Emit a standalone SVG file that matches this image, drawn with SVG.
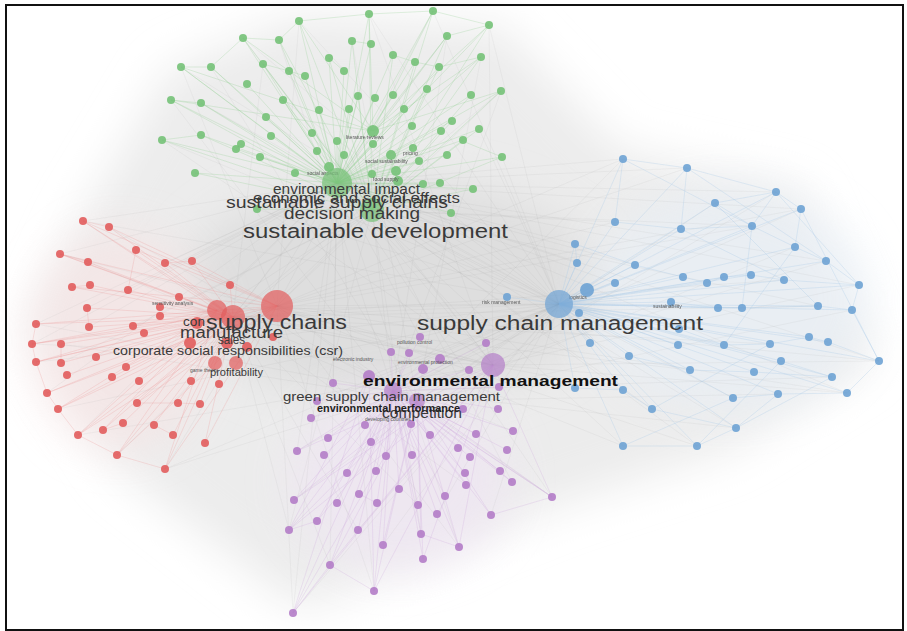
<svg xmlns="http://www.w3.org/2000/svg" width="907" height="631" viewBox="0 0 907 631">
<defs>
<filter id="blur" x="-30%" y="-30%" width="160%" height="160%"><feGaussianBlur stdDeviation="22"/></filter>
<filter id="soft" x="-50%" y="-50%" width="200%" height="200%"><feGaussianBlur stdDeviation="0.6"/></filter>
<style>
.g{fill:#76c278;fill-opacity:.9}
.r{fill:#e25c5c;fill-opacity:.9}
.p{fill:#b47dc8;fill-opacity:.9}
.b{fill:#6ea3d4;fill-opacity:.9}
.big{fill-opacity:.7}
.eg{stroke:#8fcf8f;stroke-width:.6;stroke-opacity:.45;fill:none}
.er{stroke:#ec9a9a;stroke-width:.6;stroke-opacity:.45;fill:none}
.ep{stroke:#cfa8dc;stroke-width:.6;stroke-opacity:.45;fill:none}
.eb{stroke:#a9c9e6;stroke-width:.6;stroke-opacity:.5;fill:none}
.ex{stroke:#9a9a9a;stroke-width:.5;stroke-opacity:.18;fill:none}
text{font-family:"Liberation Sans",Arial,sans-serif;fill:#3a3a3a}
.sm{font-size:5px;fill:#555}
</style>
</defs>
<rect x="0" y="0" width="907" height="631" fill="#ffffff"/>
<g id="haze">
<polygon points="170,70 300,15 500,25 620,150 800,190 875,360 730,450 560,505 300,610 120,470 30,330 80,220" fill="#ececec" filter="url(#blur)"/>
<ellipse cx="390" cy="290" rx="210" ry="110" fill="#dedede" filter="url(#blur)"/>
<ellipse cx="120" cy="340" rx="90" ry="110" fill="#f6e4e4" filter="url(#blur)" opacity=".7"/>
<ellipse cx="400" cy="480" rx="110" ry="90" fill="#efe5f3" filter="url(#blur)" opacity=".7"/>
<ellipse cx="730" cy="300" rx="140" ry="110" fill="#e8eff6" filter="url(#blur)" opacity=".7"/>
</g>
<g id="connectors">
<path class="ex" d="M337 183L83 221M337 183L60 254M337 183L36 324M337 183L32 344M337 183L47 393M337 183L78 435M337 183L165 469M337 183L293 613M337 183L330 565M337 183L374 591M337 183L459 547M337 183L552 497M337 183L623 446M337 183L697 446M337 183L736 428M337 183L847 393M337 183L879 361M337 183L859 285M337 183L826 261M337 183L801 209M337 183L776 192M337 183L687 168M337 183L623 159M372 210L133 326M372 210L61 363M372 210L117 455M372 210L289 530M372 210L421 534M372 210L512 482M372 210L652 409M372 210L733 398M372 210L818 306M372 210L752 226M372 210L615 222M559 304L83 221M559 304L36 362M559 304L58 409M559 304L165 469M559 304L293 613M559 304L383 545M559 304L491 515M559 304L181 67M559 304L243 38M559 304L299 21M559 304L369 14M559 304L433 11M559 304L489 25M559 304L162 140M559 304L201 103M559 304L283 100M559 304L479 129M559 304L502 157M559 304L257 209M277 306L181 67M277 306L299 21M277 306L433 11M277 306L501 91M277 306L879 361M277 306L847 393M277 306L697 446M277 306L623 446M277 306L552 497M277 306L459 547M277 306L374 591M277 306L293 613M277 306L801 209M277 306L687 168M277 306L623 159M493 365L162 140M493 365L243 38M493 365L369 14M493 365L489 25M493 365L60 254M493 365L32 344M493 365L78 435M493 365L165 469M493 365L776 192M493 365L859 285M493 365L879 361M493 365L847 393M393 391L36 324M393 391L109 227M393 391L171 100M393 391L279 40M393 391L447 36M393 391L501 91M393 391L623 159M393 391L801 209M393 391L826 261M393 391L832 377M393 391L736 428M417 401L61 344M417 401L88 262M417 401L211 67M417 401L352 41M417 401L481 57M417 401L715 203M417 401L795 247M417 401L852 310M417 401L778 394M233 317L447 36M233 317L263 64M233 317L501 91M233 317L615 222M233 317L752 226M233 317L784 280M233 317L818 306M233 317L770 344M233 317L690 370M233 317L623 390M233 317L513 431M233 317L466 485M233 317L418 505M233 317L358 530M233 317L330 565M233 317L289 530M559 304L369 376M559 304L440 359M559 304L420 337M559 304L317 401M559 304L311 418M559 304L297 451M559 304L294 500M559 304L358 530M559 304L437 514M337 183L420 337M337 183L486 343M337 183L333 383M337 183L297 451M337 183L230 285M337 183L192 261M337 183L165 263M337 183L128 290M337 183L89 327M337 183L87 308M337 183L575 244M337 183L577 263M337 183L615 283M337 183L507 297M337 183L635 265M372 210L277 306M372 210L559 304M372 210L493 365M277 306L559 304M277 306L493 365M277 306L393 391M559 304L393 391M559 304L417 401M372 210L393 391M372 210L233 317M337 183L559 304M337 183L493 365M233 317L493 365M233 317L559 304M217 310L559 304M217 310L493 365M217 310L372 210M233 317L337 183"/>
<path class="eg" d="M337 183L299 21M337 183L369 14M337 183L433 11M337 183L489 25M337 183L243 38M337 183L279 40M337 183L352 41M337 183L371 44M337 183L447 36M337 183L181 67M337 183L211 67M337 183L263 64M337 183L289 71M337 183L305 76M337 183L329 58M337 183L344 71M337 183L393 55M337 183L415 62M337 183L439 67M337 183L481 57M337 183L247 84M337 183L171 100M337 183L201 103M337 183L283 100M337 183L358 96M337 183L375 98M337 183L393 95M337 183L427 89M337 183L471 95M337 183L501 91M337 183L266 117M337 183L319 110M337 183L349 109M337 183L404 109M337 183L452 121M337 183L479 129M337 183L162 140M337 183L201 135M337 183L241 144M337 183L236 149M337 183L271 136M337 183L312 133M337 183L337 141M337 183L373 144M337 183L412 126M337 183L441 131M337 183L463 140M337 183L260 157M337 183L317 151M337 183L344 155M337 183L391 155M337 183L413 148M337 183L447 155M337 183L502 157M337 183L195 173M337 183L295 173M337 183L329 167M337 183L372 174M337 183L396 171M337 183L419 161M337 183L423 184M337 183L440 183M337 183L473 189M337 183L451 213M337 183L257 209M372 210L299 21M372 210L369 14M372 210L433 11M372 210L489 25M372 210L243 38M372 210L279 40M372 210L352 41M372 210L447 36M372 210L181 67M372 210L211 67M372 210L263 64M372 210L329 58M372 210L393 55M372 210L415 62M372 210L439 67M372 210L481 57M372 210L171 100M372 210L201 103M372 210L283 100M372 210L358 96M372 210L427 89M372 210L471 95M372 210L501 91M372 210L162 140M372 210L201 135M372 210L452 121M372 210L479 129M372 210L463 140M372 210L502 157M372 210L195 173M372 210L257 209M372 210L473 189M373 131L299 21M373 131L369 14M373 131L433 11M373 131L489 25M373 131L243 38M373 131L447 36M373 131L181 67M373 131L481 57M373 131L171 100M373 131L501 91M299 21L369 14M369 14L433 11M433 11L489 25M243 38L279 40M279 40L299 21M352 41L371 44M447 36L489 25M181 67L211 67M211 67L243 38M263 64L289 71M289 71L305 76M329 58L344 71M393 55L415 62M415 62L439 67M439 67L481 57M171 100L201 103M162 140L201 135M236 149L241 144M460 140L502 157"/>
<path class="er" d="M233 317L83 221M233 317L109 227M233 317L60 254M233 317L88 262M233 317L136 250M233 317L165 263M233 317L192 261M233 317L72 287M233 317L90 285M233 317L128 290M233 317L230 285M233 317L179 297M233 317L87 308M233 317L160 307M233 317L160 316M233 317L36 324M233 317L89 327M233 317L133 326M233 317L144 333M233 317L32 344M233 317L61 344M233 317L36 362M233 317L61 363M233 317L96 357M233 317L126 367M233 317L67 375M233 317L112 377M233 317L139 381M233 317L47 393M233 317L58 409M233 317L137 403M233 317L178 403M233 317L200 404M233 317L78 435M233 317L103 430M233 317L123 423M233 317L154 425M233 317L173 435M233 317L205 443M233 317L117 455M233 317L165 469M277 306L83 221M277 306L109 227M277 306L60 254M277 306L136 250M277 306L192 261M277 306L72 287M277 306L36 324M277 306L32 344M277 306L36 362M277 306L47 393M277 306L58 409M277 306L78 435M277 306L117 455M277 306L165 469M277 306L205 443M277 306L137 403M217 310L83 221M217 310L60 254M217 310L32 344M217 310L36 362M217 310L58 409M217 310L78 435M217 310L103 430M217 310L117 455M217 310L165 469M83 221L109 227M60 254L88 262M72 287L90 285M36 324L32 344M32 344L36 362M36 362L47 393M47 393L58 409M58 409L78 435M78 435L117 455M117 455L165 469M103 430L123 423M61 344L61 363M87 308L89 327M128 290L136 250M165 263L192 261M137 403L178 403M178 403L200 404M154 425L173 435"/>
<path class="ep" d="M393 391L420 337M393 391L486 343M393 391L391 352M393 391L409 353M393 391L440 359M393 391L423 369M393 391L469 370M393 391L333 383M393 391L499 387M393 391L317 401M393 391L463 409M393 391L498 409M393 391L311 418M393 391L365 425M393 391L411 424M393 391L430 435M393 391L328 438M393 391L371 442M393 391L476 434M393 391L513 431M393 391L297 451M393 391L324 455M393 391L386 456M393 391L412 455M393 391L458 448M393 391L470 457M393 391L507 450M393 391L347 473M393 391L376 471M393 391L465 473M393 391L500 471M393 391L399 489M393 391L466 485M393 391L512 482M393 391L294 500M393 391L359 494M393 391L337 503M393 391L377 503M393 391L418 505M393 391L445 496M393 391L552 497M393 391L437 514M393 391L491 515M393 391L317 521M393 391L289 530M393 391L358 530M393 391L421 534M393 391L383 545M393 391L459 547M393 391L423 559M393 391L330 565M393 391L374 591M393 391L293 613M417 401L294 500M417 401L289 530M417 401L317 521M417 401L330 565M417 401L374 591M417 401L293 613M417 401L421 534M417 401L459 547M417 401L423 559M417 401L552 497M417 401L491 515M417 401L512 482M417 401L383 545M493 365L294 500M493 365L289 530M493 365L330 565M493 365L374 591M493 365L293 613M493 365L459 547M493 365L552 497M493 365L423 559M493 365L297 451M369 376L293 613M369 376L289 530M369 376L374 591M369 376L552 497M293 613L330 565M330 565L374 591M289 530L317 521M421 534L459 547M491 515L552 497M359 494L377 503"/>
<path class="eb" d="M559 304L623 159M559 304L687 168M559 304L776 192M559 304L715 203M559 304L801 209M559 304L615 222M559 304L681 229M559 304L752 226M559 304L575 244M559 304L795 247M559 304L577 263M559 304L635 265M559 304L826 261M559 304L615 283M559 304L683 277M559 304L707 283M559 304L724 277M559 304L751 275M559 304L784 280M559 304L859 285M559 304L507 297M559 304L671 302M559 304L718 308M559 304L742 308M559 304L818 306M559 304L852 310M559 304L679 329M559 304L590 343M559 304L678 345M559 304L724 345M559 304L770 344M559 304L809 337M559 304L828 342M559 304L629 356M559 304L781 361M559 304L879 361M559 304L690 370M559 304L754 372M559 304L832 377M559 304L575 388M559 304L623 390M559 304L733 398M559 304L778 394M559 304L847 393M559 304L652 409M559 304L736 428M559 304L623 446M559 304L697 446M623 159L687 168M687 168L776 192M776 192L801 209M715 203L776 192M615 222L681 229M681 229L752 226M752 226L795 247M795 247L826 261M826 261L859 285M575 244L635 265M635 265L683 277M683 277L707 283M707 283L724 277M724 277L751 275M751 275L784 280M784 280L859 285M671 302L718 308M718 308L742 308M742 308L818 306M818 306L852 310M679 329L724 345M724 345L770 344M770 344L809 337M809 337L828 342M828 342L879 361M629 356L690 370M690 370L754 372M754 372L832 377M781 361L832 377M575 388L623 390M623 390L652 409M733 398L778 394M778 394L847 393M652 409L736 428M623 446L697 446M697 446L736 428M776 192L752 226M801 209L795 247M687 168L681 229M715 203L752 226M859 285L852 310M852 310L879 361M847 393L879 361M736 428L778 394M623 159L615 222M575 244L577 263M776 192L859 285M801 209L879 361M687 168L826 261M623 159L752 226M715 203L818 306M697 446L781 361M623 446L733 398M736 428L832 377M652 409L770 344M681 229L784 280M752 226L742 308M795 247L724 345"/>
</g>
<g id="nodes-green" filter="url(#soft)">
<g id="n-g1"><circle class="g" cx="299" cy="21" r="4"/></g><g id="n-g2"><circle class="g" cx="369" cy="14" r="4"/></g><g id="n-g3"><circle class="g" cx="433" cy="11" r="4"/></g><g id="n-g4"><circle class="g" cx="489" cy="25" r="4"/></g><g id="n-g5"><circle class="g" cx="243" cy="38" r="4"/></g><g id="n-g6"><circle class="g" cx="279" cy="40" r="4"/></g><g id="n-g7"><circle class="g" cx="352" cy="41" r="4"/></g><g id="n-g8"><circle class="g" cx="371" cy="44" r="4"/></g><g id="n-g9"><circle class="g" cx="447" cy="36" r="4"/></g><g id="n-g10"><circle class="g" cx="181" cy="67" r="4"/></g><g id="n-g11"><circle class="g" cx="211" cy="67" r="4"/></g><g id="n-g12"><circle class="g" cx="263" cy="64" r="4"/></g><g id="n-g13"><circle class="g" cx="289" cy="71" r="4"/></g><g id="n-g14"><circle class="g" cx="305" cy="76" r="4"/></g><g id="n-g15"><circle class="g" cx="329" cy="58" r="4"/></g><g id="n-g16"><circle class="g" cx="344" cy="71" r="4"/></g><g id="n-g17"><circle class="g" cx="393" cy="55" r="4"/></g><g id="n-g18"><circle class="g" cx="415" cy="62" r="4"/></g><g id="n-g19"><circle class="g" cx="439" cy="67" r="4"/></g><g id="n-g20"><circle class="g" cx="481" cy="57" r="4"/></g><g id="n-g21"><circle class="g" cx="247" cy="84" r="4"/></g><g id="n-g22"><circle class="g" cx="171" cy="100" r="4"/></g><g id="n-g23"><circle class="g" cx="201" cy="103" r="4"/></g><g id="n-g24"><circle class="g" cx="283" cy="100" r="4"/></g><g id="n-g25"><circle class="g" cx="358" cy="96" r="4"/></g><g id="n-g26"><circle class="g" cx="375" cy="98" r="4"/></g><g id="n-g27"><circle class="g" cx="393" cy="95" r="4"/></g><g id="n-g28"><circle class="g" cx="427" cy="89" r="4"/></g><g id="n-g29"><circle class="g" cx="471" cy="95" r="4"/></g><g id="n-g30"><circle class="g" cx="501" cy="91" r="4"/></g><g id="n-g31"><circle class="g" cx="266" cy="117" r="4"/></g><g id="n-g32"><circle class="g" cx="319" cy="110" r="4"/></g><g id="n-g33"><circle class="g" cx="349" cy="109" r="4"/></g><g id="n-g34"><circle class="g" cx="404" cy="109" r="4"/></g><g id="n-g35"><circle class="g" cx="452" cy="121" r="4"/></g><g id="n-g36"><circle class="g" cx="479" cy="129" r="4"/></g><g id="n-g37"><circle class="g" cx="162" cy="140" r="4"/></g><g id="n-g38"><circle class="g" cx="201" cy="135" r="4"/></g><g id="n-g39"><circle class="g" cx="241" cy="144" r="4"/></g><g id="n-g40"><circle class="g" cx="236" cy="149" r="4"/></g><g id="n-g41"><circle class="g" cx="271" cy="136" r="4"/></g><g id="n-g42"><circle class="g" cx="312" cy="133" r="4"/></g><g id="n-g43"><circle class="g" cx="337" cy="141" r="4"/></g><g id="n-g44"><circle class="g" cx="373" cy="131" r="6"/><text class="sm" x="346" y="139">literature reviews</text></g><g id="n-g45"><circle class="g" cx="373" cy="144" r="4"/></g><g id="n-g46"><circle class="g" cx="412" cy="126" r="4"/></g><g id="n-g47"><circle class="g" cx="441" cy="131" r="4"/></g><g id="n-g48"><circle class="g" cx="463" cy="140" r="4"/></g><g id="n-g49"><circle class="g" cx="260" cy="157" r="4"/></g><g id="n-g50"><circle class="g" cx="317" cy="151" r="4"/></g><g id="n-g51"><circle class="g" cx="344" cy="155" r="4"/></g><g id="n-g52"><circle class="g" cx="391" cy="155" r="5"/><text class="sm" x="403" y="155">pricing</text></g><g id="n-g53"><circle class="g" cx="413" cy="148" r="4"/></g><g id="n-g54"><circle class="g" cx="447" cy="155" r="4"/></g><g id="n-g55"><circle class="g" cx="502" cy="157" r="4"/></g><g id="n-g56"><circle class="g" cx="195" cy="173" r="4"/></g><g id="n-g57"><circle class="g" cx="295" cy="173" r="4"/></g><g id="n-g58"><circle class="g" cx="329" cy="167" r="5"/><text class="sm" x="307" y="175">social aspects</text></g><g id="n-g59"><circle class="g" cx="372" cy="174" r="4"/></g><g id="n-g60"><circle class="g" cx="396" cy="171" r="5"/><text class="sm" x="365" y="163">social sustainability</text></g><g id="n-g61"><circle class="g" cx="419" cy="161" r="4"/></g><g id="n-g62"><circle class="g" cx="423" cy="184" r="4"/></g><g id="n-g63"><circle class="g" cx="440" cy="183" r="4"/></g><g id="n-g64"><circle class="g" cx="473" cy="189" r="4"/></g><g id="n-g65"><circle class="g" cx="451" cy="213" r="4"/></g><g id="n-g66"><circle class="g" cx="257" cy="209" r="4"/></g><g id="n-g67"><circle class="g" cx="398" cy="181" r="5"/><text class="sm" x="373" y="181">food supply</text></g>
<g id="n-environmental-impact"><circle class="g big" cx="337" cy="183" r="15"/></g>
<g id="n-decision-making"><circle class="g big" cx="372" cy="210" r="12"/></g>
</g>
<g id="nodes-red" filter="url(#soft)">
<g id="n-r1"><circle class="r" cx="83" cy="221" r="4"/></g><g id="n-r2"><circle class="r" cx="109" cy="227" r="4"/></g><g id="n-r3"><circle class="r" cx="60" cy="254" r="4"/></g><g id="n-r4"><circle class="r" cx="88" cy="262" r="4"/></g><g id="n-r5"><circle class="r" cx="136" cy="250" r="4"/></g><g id="n-r6"><circle class="r" cx="165" cy="263" r="4"/></g><g id="n-r7"><circle class="r" cx="192" cy="261" r="4"/></g><g id="n-r8"><circle class="r" cx="72" cy="287" r="4"/></g><g id="n-r9"><circle class="r" cx="90" cy="285" r="4"/></g><g id="n-r10"><circle class="r" cx="128" cy="290" r="4"/></g><g id="n-r11"><circle class="r" cx="230" cy="285" r="4"/></g><g id="n-r12"><circle class="r" cx="179" cy="297" r="4"/></g><g id="n-r13"><circle class="r" cx="87" cy="308" r="4"/></g><g id="n-r14"><circle class="r" cx="160" cy="307" r="4"/><text class="sm" x="152" y="305">sensitivity analysis</text></g><g id="n-r15"><circle class="r" cx="160" cy="316" r="4"/></g><g id="n-r16"><circle class="r" cx="36" cy="324" r="4"/></g><g id="n-r17"><circle class="r" cx="89" cy="327" r="4"/></g><g id="n-r18"><circle class="r" cx="133" cy="326" r="4"/></g><g id="n-r19"><circle class="r" cx="144" cy="333" r="4"/></g><g id="n-r20"><circle class="r" cx="32" cy="344" r="4"/></g><g id="n-r21"><circle class="r" cx="61" cy="344" r="4"/></g><g id="n-r22"><circle class="r" cx="36" cy="362" r="4"/></g><g id="n-r23"><circle class="r" cx="61" cy="363" r="4"/></g><g id="n-r24"><circle class="r" cx="96" cy="357" r="4"/></g><g id="n-r25"><circle class="r" cx="126" cy="367" r="4"/></g><g id="n-r26"><circle class="r" cx="67" cy="375" r="4"/></g><g id="n-r27"><circle class="r" cx="112" cy="377" r="4"/></g><g id="n-r28"><circle class="r" cx="139" cy="381" r="4"/></g><g id="n-r29"><circle class="r" cx="47" cy="393" r="4"/></g><g id="n-r30"><circle class="r" cx="58" cy="409" r="4"/></g><g id="n-r31"><circle class="r" cx="137" cy="403" r="4"/></g><g id="n-r32"><circle class="r" cx="178" cy="403" r="4"/></g><g id="n-r33"><circle class="r" cx="200" cy="404" r="4"/></g><g id="n-r34"><circle class="r" cx="78" cy="435" r="4"/></g><g id="n-r35"><circle class="r" cx="103" cy="430" r="4"/></g><g id="n-r36"><circle class="r" cx="123" cy="423" r="4"/></g><g id="n-r37"><circle class="r" cx="154" cy="425" r="4"/></g><g id="n-r38"><circle class="r" cx="173" cy="435" r="4"/></g><g id="n-r39"><circle class="r" cx="205" cy="443" r="4"/></g><g id="n-r40"><circle class="r" cx="117" cy="455" r="4"/></g><g id="n-r41"><circle class="r" cx="165" cy="469" r="4"/></g><g id="n-r42"><circle class="r" cx="197" cy="323" r="6"/></g><g id="n-r43"><circle class="r" cx="190" cy="343" r="6"/></g><g id="n-r44"><circle class="r" cx="227" cy="343" r="6"/></g><g id="n-r45"><circle class="r" cx="247" cy="347" r="5"/></g><g id="n-r46"><circle class="r" cx="273" cy="337" r="4"/></g><g id="n-r47"><circle class="r" cx="191" cy="381" r="4"/></g><g id="n-r48"><circle class="r" cx="219" cy="384" r="4"/></g>
<g id="n-supply-chains"><circle class="r big" cx="277" cy="306" r="16"/></g>
<g id="n-manufacture"><circle class="r big" cx="233" cy="317" r="12"/></g>
<g id="n-sales"><circle class="r big" cx="217" cy="310" r="10"/></g>
<g id="n-csr"><circle class="r big" cx="215" cy="363" r="7"/></g>
<g id="n-profitability"><circle class="r big" cx="236" cy="363" r="7"/></g>
</g>
<g id="nodes-purple" filter="url(#soft)">
<g id="n-p1"><circle class="p" cx="420" cy="337" r="4"/></g><g id="n-p2"><circle class="p" cx="486" cy="343" r="4"/></g><g id="n-p3"><circle class="p" cx="391" cy="352" r="4"/></g><g id="n-p4"><circle class="p" cx="409" cy="353" r="4"/></g><g id="n-p5"><circle class="p" cx="440" cy="359" r="5"/></g><g id="n-p6"><circle class="p" cx="423" cy="369" r="5"/></g><g id="n-p7"><circle class="p" cx="469" cy="370" r="4"/></g><g id="n-p8"><circle class="p" cx="369" cy="376" r="6"/></g><g id="n-p9"><circle class="p" cx="333" cy="383" r="4"/></g><g id="n-p10"><circle class="p" cx="499" cy="387" r="4"/></g><g id="n-p11"><circle class="p" cx="317" cy="401" r="4"/></g><g id="n-p12"><circle class="p" cx="463" cy="409" r="4"/></g><g id="n-p13"><circle class="p" cx="498" cy="409" r="4"/></g><g id="n-p14"><circle class="p" cx="311" cy="418" r="4"/></g><g id="n-p15"><circle class="p" cx="365" cy="425" r="4"/></g><g id="n-p16"><circle class="p" cx="411" cy="424" r="4"/></g><g id="n-p17"><circle class="p" cx="430" cy="435" r="4"/></g><g id="n-p18"><circle class="p" cx="328" cy="438" r="4"/></g><g id="n-p19"><circle class="p" cx="371" cy="442" r="4"/></g><g id="n-p20"><circle class="p" cx="476" cy="434" r="4"/></g><g id="n-p21"><circle class="p" cx="513" cy="431" r="4"/></g><g id="n-p22"><circle class="p" cx="297" cy="451" r="4"/></g><g id="n-p23"><circle class="p" cx="324" cy="455" r="4"/></g><g id="n-p24"><circle class="p" cx="386" cy="456" r="4"/></g><g id="n-p25"><circle class="p" cx="412" cy="455" r="4"/></g><g id="n-p26"><circle class="p" cx="458" cy="448" r="4"/></g><g id="n-p27"><circle class="p" cx="470" cy="457" r="4"/></g><g id="n-p28"><circle class="p" cx="507" cy="450" r="4"/></g><g id="n-p29"><circle class="p" cx="347" cy="473" r="4"/></g><g id="n-p30"><circle class="p" cx="376" cy="471" r="4"/></g><g id="n-p31"><circle class="p" cx="465" cy="473" r="4"/></g><g id="n-p32"><circle class="p" cx="500" cy="471" r="4"/></g><g id="n-p33"><circle class="p" cx="399" cy="489" r="4"/></g><g id="n-p34"><circle class="p" cx="466" cy="485" r="4"/></g><g id="n-p35"><circle class="p" cx="512" cy="482" r="4"/></g><g id="n-p36"><circle class="p" cx="294" cy="500" r="4"/></g><g id="n-p37"><circle class="p" cx="359" cy="494" r="4"/></g><g id="n-p38"><circle class="p" cx="337" cy="503" r="4"/></g><g id="n-p39"><circle class="p" cx="377" cy="503" r="4"/></g><g id="n-p40"><circle class="p" cx="418" cy="505" r="4"/></g><g id="n-p41"><circle class="p" cx="445" cy="496" r="4"/></g><g id="n-p42"><circle class="p" cx="552" cy="497" r="4"/></g><g id="n-p43"><circle class="p" cx="437" cy="514" r="4"/></g><g id="n-p44"><circle class="p" cx="491" cy="515" r="4"/></g><g id="n-p45"><circle class="p" cx="317" cy="521" r="4"/></g><g id="n-p46"><circle class="p" cx="289" cy="530" r="4"/></g><g id="n-p47"><circle class="p" cx="358" cy="530" r="4"/></g><g id="n-p48"><circle class="p" cx="421" cy="534" r="4"/></g><g id="n-p49"><circle class="p" cx="383" cy="545" r="4"/></g><g id="n-p50"><circle class="p" cx="459" cy="547" r="4"/></g><g id="n-p51"><circle class="p" cx="423" cy="559" r="4"/></g><g id="n-p52"><circle class="p" cx="330" cy="565" r="4"/></g><g id="n-p53"><circle class="p" cx="374" cy="591" r="4"/></g><g id="n-p54"><circle class="p" cx="293" cy="613" r="4"/></g>
<g id="n-environmental-management"><circle class="p big" cx="493" cy="365" r="12"/></g>
<g id="n-green-supply-chain-management"><circle class="p big" cx="393" cy="391" r="9"/></g>
<g id="n-competition"><circle class="p big" cx="417" cy="401" r="8"/></g>
</g>
<g id="nodes-blue" filter="url(#soft)">
<g id="n-b1"><circle class="b" cx="623" cy="159" r="4"/></g><g id="n-b2"><circle class="b" cx="687" cy="168" r="4"/></g><g id="n-b3"><circle class="b" cx="776" cy="192" r="4"/></g><g id="n-b4"><circle class="b" cx="715" cy="203" r="4"/></g><g id="n-b5"><circle class="b" cx="801" cy="209" r="4"/></g><g id="n-b6"><circle class="b" cx="615" cy="222" r="4"/></g><g id="n-b7"><circle class="b" cx="681" cy="229" r="4"/></g><g id="n-b8"><circle class="b" cx="752" cy="226" r="4"/></g><g id="n-b9"><circle class="b" cx="575" cy="244" r="4"/></g><g id="n-b10"><circle class="b" cx="795" cy="247" r="4"/></g><g id="n-b11"><circle class="b" cx="577" cy="263" r="4"/></g><g id="n-b12"><circle class="b" cx="635" cy="265" r="4"/></g><g id="n-b13"><circle class="b" cx="826" cy="261" r="4"/></g><g id="n-b14"><circle class="b" cx="615" cy="283" r="4"/></g><g id="n-b15"><circle class="b" cx="683" cy="277" r="4"/></g><g id="n-b16"><circle class="b" cx="707" cy="283" r="4"/></g><g id="n-b17"><circle class="b" cx="724" cy="277" r="4"/></g><g id="n-b18"><circle class="b" cx="751" cy="275" r="4"/></g><g id="n-b19"><circle class="b" cx="784" cy="280" r="4"/></g><g id="n-b20"><circle class="b" cx="859" cy="285" r="4"/></g><g id="n-b21"><circle class="b" cx="507" cy="297" r="4"/><text class="sm" x="482" y="304">risk management</text></g><g id="n-b22"><circle class="b" cx="671" cy="302" r="4"/><text class="sm" x="653" y="308">sustainability</text></g><g id="n-b23"><circle class="b" cx="718" cy="308" r="4"/></g><g id="n-b24"><circle class="b" cx="742" cy="308" r="4"/></g><g id="n-b25"><circle class="b" cx="818" cy="306" r="4"/></g><g id="n-b26"><circle class="b" cx="852" cy="310" r="4"/></g><g id="n-b27"><circle class="b" cx="679" cy="329" r="4"/></g><g id="n-b28"><circle class="b" cx="590" cy="343" r="4"/></g><g id="n-b29"><circle class="b" cx="678" cy="345" r="4"/></g><g id="n-b30"><circle class="b" cx="724" cy="345" r="4"/></g><g id="n-b31"><circle class="b" cx="770" cy="344" r="4"/></g><g id="n-b32"><circle class="b" cx="809" cy="337" r="4"/></g><g id="n-b33"><circle class="b" cx="828" cy="342" r="4"/></g><g id="n-b34"><circle class="b" cx="629" cy="356" r="4"/></g><g id="n-b35"><circle class="b" cx="781" cy="361" r="4"/></g><g id="n-b36"><circle class="b" cx="879" cy="361" r="4"/></g><g id="n-b37"><circle class="b" cx="690" cy="370" r="4"/></g><g id="n-b38"><circle class="b" cx="754" cy="372" r="4"/></g><g id="n-b39"><circle class="b" cx="832" cy="377" r="4"/></g><g id="n-b40"><circle class="b" cx="575" cy="388" r="4"/></g><g id="n-b41"><circle class="b" cx="623" cy="390" r="4"/></g><g id="n-b42"><circle class="b" cx="733" cy="398" r="4"/></g><g id="n-b43"><circle class="b" cx="778" cy="394" r="4"/></g><g id="n-b44"><circle class="b" cx="847" cy="393" r="4"/></g><g id="n-b45"><circle class="b" cx="652" cy="409" r="4"/></g><g id="n-b46"><circle class="b" cx="736" cy="428" r="4"/></g><g id="n-b47"><circle class="b" cx="623" cy="446" r="4"/></g><g id="n-b48"><circle class="b" cx="697" cy="446" r="4"/></g><g id="n-b49"><circle class="b" cx="579" cy="313" r="4"/></g>
<g id="n-logistics"><circle class="b" cx="587" cy="290" r="7"/><text class="sm" x="569" y="299">logistics</text></g>
<g id="n-supply-chain-management"><circle class="b big" cx="559" cy="304" r="14"/></g>
</g>
<g id="labels">
<text class="sm" x="397" y="344">pollution control</text>
<text class="sm" x="398" y="364">environmental protection</text>
<text class="sm" x="333" y="361">electronic industry</text>
<text class="sm" x="365" y="421">developing countries</text>
<text class="sm" x="190" y="372">game theory</text>
<text x="273" y="194" font-size="14" textLength="147" lengthAdjust="spacingAndGlyphs">environmental impact</text>
<text x="253" y="203" font-size="14" textLength="207" lengthAdjust="spacingAndGlyphs">economic and social effects</text>
<text x="226" y="208" font-size="17" textLength="222" lengthAdjust="spacingAndGlyphs">sustainable supply chains</text>
<text x="284" y="219" font-size="16" textLength="136" lengthAdjust="spacingAndGlyphs">decision making</text>
<text x="243" y="238" font-size="20" textLength="265" lengthAdjust="spacingAndGlyphs">sustainable development</text>
<text x="183" y="326" font-size="12" textLength="22" lengthAdjust="spacingAndGlyphs">con</text>
<text x="180" y="338" font-size="16" textLength="103" lengthAdjust="spacingAndGlyphs">manufacture</text>
<text x="206" y="329" font-size="20" textLength="141" lengthAdjust="spacingAndGlyphs">supply chains</text>
<text x="218" y="344" font-size="13" textLength="27" lengthAdjust="spacingAndGlyphs">sales</text>
<text x="113" y="355" font-size="13" textLength="230" lengthAdjust="spacingAndGlyphs">corporate social responsibilities (csr)</text>
<text x="210" y="376" font-size="11" textLength="53" lengthAdjust="spacingAndGlyphs">profitability</text>
<text x="417" y="330" font-size="20" textLength="286" lengthAdjust="spacingAndGlyphs">supply chain management</text>
<text x="363" y="386" font-size="15" font-weight="bold" textLength="255" lengthAdjust="spacingAndGlyphs" style="fill:#111">environmental management</text>
<text x="283" y="401" font-size="13" textLength="217" lengthAdjust="spacingAndGlyphs">green supply chain management</text>
<text x="382" y="418" font-size="15" textLength="80" lengthAdjust="spacingAndGlyphs">competition</text>
<text x="317" y="412" font-size="10" font-weight="bold" textLength="143" lengthAdjust="spacingAndGlyphs" style="fill:#222">environmental performance</text>
</g>
<rect x="6" y="5" width="897" height="625" fill="none" stroke="#111" stroke-width="2"/>
</svg>
